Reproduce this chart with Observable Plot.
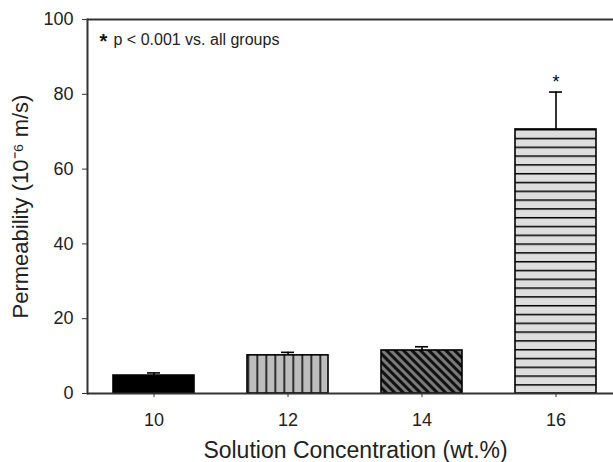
<!DOCTYPE html>
<html><head><meta charset="utf-8">
<script src="https://cdn.jsdelivr.net/npm/d3@7"></script>
<script src="https://cdn.jsdelivr.net/npm/@observablehq/plot@0.6"></script>
<style>
body{margin:0;background:#fff;overflow:hidden}
</style>
</head><body><div id="chart"></div>
<script>
// Data
const concentrations = ["10", "12", "14", "16"];
const permeability = [4.8, 10.2, 11.5, 70.6];
const errorUp = [0.7, 0.8, 1.0, 10.0];
const patterns = ["solid", "vertical", "diagonal", "horizontal"];
const yTicks = [0, 20, 40, 60, 80, 100];
const significant = ["16"];
const noteStar = "*";
const noteText = "p < 0.001 vs. all groups";
const xTitle = "Solution Concentration (wt.%)";
const yTitle = "Permeability (10\u207B\u2076 m/s)";

const data = concentrations.map((c, i) => ({
  c, v: permeability[i], top: permeability[i] + errorUp[i],
  fill: patterns[i] === "solid" ? "black" : `url(#pat-${patterns[i]})`
}));

const font = "'Liberation Sans', Arial, Helvetica, sans-serif";
const axisColor = "#333";

const chart = Plot.plot({
  width: 613, height: 462,
  marginLeft: 87, marginRight: 0, marginTop: 19, marginBottom: 69,
  style: {fontFamily: font, background: "white", color: "#222"},
  x: {type: "band", domain: concentrations, range: [87, 623], paddingInner: 0.395, paddingOuter: 0.1975, axis: null},
  y: {domain: [0, 100], axis: null},
  color: {type: "identity"},
  marks: [
    Plot.barY(data, {x: "c", y: "v", fill: "fill", stroke: "black", strokeWidth: 1.6}),
    Plot.ruleX(data, {x: "c", y1: "v", y2: "top", stroke: "black", strokeWidth: 1.6}),
    Plot.tickY(data, {x: "c", y: "top", insetLeft: 34, insetRight: 34, stroke: "black", strokeWidth: 1.6}),
    Plot.text(data.filter(d => significant.includes(d.c)), {x: "c", y: "top", text: () => "*", fontSize: 18, lineAnchor: "middle", dy: -10, fill: "black"}),
    Plot.ruleY([0, 100], {stroke: axisColor, strokeWidth: 2}),
    Plot.frame({anchor: "left", stroke: axisColor, strokeWidth: 2}),
    Plot.axisY({ticks: yTicks, tickSize: 5, tickPadding: 9, fontSize: 18, stroke: axisColor, fill: "#222", label: null}),
    Plot.axisX({tickSize: 4, tickPadding: 16, fontSize: 18, stroke: axisColor, fill: "#222", label: null}),
    Plot.text([noteStar], {frameAnchor: "top-left", text: d => d, dx: 12, dy: 22, fontSize: 20, fontWeight: "bold", lineAnchor: "middle", textAnchor: "start", fill: "#111"}),
    Plot.text([noteText], {frameAnchor: "top-left", text: d => d, dx: 26, dy: 20.5, fontSize: 16, lineAnchor: "middle", textAnchor: "start", fill: "#222"}),
    Plot.text([xTitle], {frameAnchor: "bottom", text: d => d, dx: 5, dy: 57, fontSize: 23, lineAnchor: "middle", textAnchor: "middle", fill: "#222"}),
    Plot.text([yTitle], {frameAnchor: "left", text: d => d, dx: -67, rotate: -90, fontSize: 22, lineAnchor: "middle", textAnchor: "middle", fill: "#222"})
  ]
});

// Hatch patterns for the bars
const xs = chart.scale("x");
const svg = d3.select(chart);
const defs = svg.insert("defs", ":first-child");
const yScale = chart.scale("y");

const pv = defs.append("pattern").attr("id", "pat-vertical").attr("patternUnits", "userSpaceOnUse")
  .attr("width", 9).attr("height", 10).attr("x", xs.apply("12") + 0.5);
pv.append("rect").attr("width", 9).attr("height", 10).attr("fill", "#bdbdbd");
pv.append("line").attr("x1", 0).attr("x2", 0).attr("y1", 0).attr("y2", 10).attr("stroke", "black").attr("stroke-width", 3);

const pd = defs.append("pattern").attr("id", "pat-diagonal").attr("patternUnits", "userSpaceOnUse")
  .attr("width", 6).attr("height", 10).attr("patternTransform", "rotate(-45)");
pd.append("rect").attr("width", 6).attr("height", 10).attr("fill", "#7a7a7a");
pd.append("line").attr("x1", 1.5).attr("x2", 1.5).attr("y1", 0).attr("y2", 10).attr("stroke", "#111").attr("stroke-width", 3);

const ph = defs.append("pattern").attr("id", "pat-horizontal").attr("patternUnits", "userSpaceOnUse")
  .attr("width", 10).attr("height", 8.8).attr("y", yScale.apply(permeability[3]));
ph.append("rect").attr("width", 10).attr("height", 8.8).attr("fill", "#dedede");
ph.append("line").attr("x1", 0).attr("x2", 10).attr("y1", 0).attr("y2", 0).attr("stroke", "black").attr("stroke-width", 3);

document.getElementById("chart").appendChild(chart);
</script>
</body></html>
